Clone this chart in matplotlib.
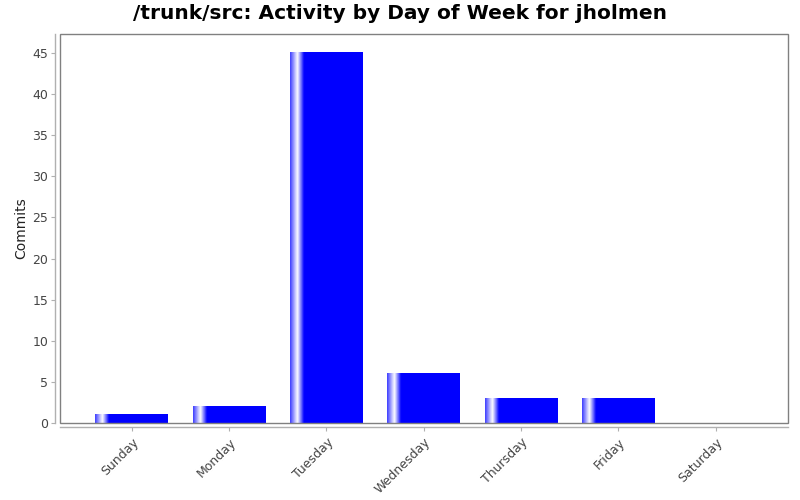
import numpy as np
import matplotlib
matplotlib.use("Agg")
import matplotlib.pyplot as plt
from matplotlib.colors import LinearSegmentedColormap
from matplotlib.patches import Rectangle

# data
days = ["Sunday", "Monday", "Tuesday", "Wednesday", "Thursday", "Friday", "Saturday"]
commits = [1, 2, 45, 6, 3, 3, 0]

title = "/trunk/src: Activity by Day of Week for jholmen"
bar_w = 0.75

# blue bar with white highlight near the left edge
grad = LinearSegmentedColormap.from_list(
    "barglow",
    [(0.0, (0.25, 0.25, 1.0)), (0.10, (1.0, 1.0, 1.0)),
     (0.19, (0.0, 0.0, 1.0)), (1.0, (0.0, 0.0, 1.0))])
strip = np.linspace(0, 1, 200).reshape(1, -1)

fig = plt.figure(figsize=(8, 5), dpi=100)
ax = fig.add_axes([59.5 / 800, 1 - 423 / 500, (788 - 59.5) / 800, (423 - 34) / 500])

x = np.arange(len(days))
bars = ax.bar(x, commits, width=bar_w, color="none", edgecolor="none")
for b in bars:
    h = b.get_height()
    if h <= 0:
        continue
    x0 = b.get_x()
    ax.imshow(strip, cmap=grad, aspect="auto", interpolation="bilinear",
              extent=(x0, x0 + b.get_width(), 0, h), zorder=2)

ax.set_xlim(-0.745, len(days) - 1 + 0.745)
ax.set_ylim(0, 47.3)
ax.set_yticks(np.arange(0, 46, 5))
ax.set_xticks(x)
ax.set_xticklabels(days)

# plot outline
ax.add_patch(Rectangle((0, 0), 1, 1, transform=ax.transAxes, fill=False,
                       edgecolor="#808080", linewidth=1.0, clip_on=False, zorder=5))
for s in ["top", "right"]:
    ax.spines[s].set_visible(False)
for s in ["left", "bottom"]:
    ax.spines[s].set_position(("outward", 3))
    ax.spines[s].set_color("#b0b0b0")
    ax.spines[s].set_linewidth(1.0)

ax.tick_params(axis="both", colors="#b0b0b0", labelcolor="#444444",
               labelsize=9, length=3, width=0.8)
ax.tick_params(axis="y", pad=2)
ax.tick_params(axis="x", pad=3)
plt.setp(ax.get_xticklabels(), rotation=45, ha="right", va="top",
         rotation_mode="anchor")

ax.set_ylabel("Commits", fontsize=10, color="#222222", labelpad=3)
fig.suptitle(title, fontsize=14.5, fontweight="bold", y=0.992)

fig.savefig("out.png", dpi=100)
